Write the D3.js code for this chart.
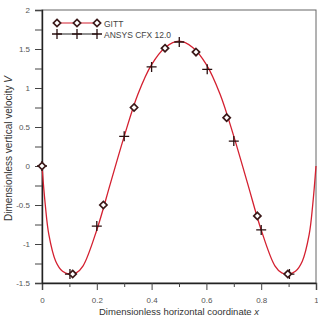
<!DOCTYPE html>
<html><head><meta charset="utf-8">
<script src="https://cdn.jsdelivr.net/npm/d3@7"></script>
<style>body{margin:0;background:#fff}svg{display:block}</style>
</head><body>
<script>
// Data
const curveX = [0, 0.012, 0.025, 0.05, 0.075, 0.1, 0.125, 0.15, 0.2, 0.25, 0.3, 0.35, 0.4, 0.45, 0.5, 0.55, 0.6, 0.65, 0.7, 0.75, 0.8, 0.85, 0.875, 0.9, 0.925, 0.95, 0.975, 0.988, 1];
const curveV = [0, -0.5, -0.88, -1.22, -1.35, -1.385, -1.37, -1.28, -0.82, -0.22, 0.38, 0.92, 1.30, 1.52, 1.60, 1.52, 1.30, 0.92, 0.38, -0.22, -0.82, -1.28, -1.37, -1.385, -1.35, -1.22, -0.88, -0.5, 0];
const gittX = [0, 0.112, 0.224, 0.336, 0.449, 0.562, 0.674, 0.786, 0.897];
const gittV = [0, -1.385, -0.50, 0.75, 1.51, 1.46, 0.62, -0.64, -1.385];
const ansysX = [0, 0.102, 0.2, 0.30, 0.40, 0.501, 0.603, 0.70, 0.80, 0.903];
const ansysV = [0, -1.385, -0.77, 0.38, 1.27, 1.59, 1.24, 0.32, -0.82, -1.385];
const xTicks = [0, 0.2, 0.4, 0.6, 0.8, 1];
const xTickLabels = ["0", "0.2", "0.4", "0.6", "0.8", "1"];
const yTicks = [-1.5, -1, -0.5, 0, 0.5, 1, 1.5, 2];
const yTickLabels = ["-1.5", "-1", "-0.5", "0", "0.5", "1", "1.5", "2"];
const seriesNames = ["GITT", "ANSYS CFX 12.0"];

const W = 318, H = 316;
const L = 42, R = 316, T = 10, B = 283;
const svg = d3.select("body").append("svg").attr("width", W).attr("height", H);
const x = d3.scaleLinear().domain([0, 1]).range([L, R]);
const y = d3.scaleLinear().domain([-1.5, 2]).range([B, T]);
const red = "#d42030";
const font = "Arial, 'Liberation Sans', sans-serif";

// frame
svg.append("rect").attr("x", L).attr("y", T).attr("width", R - L).attr("height", B - T)
  .attr("fill", "none").attr("stroke", "#666").attr("stroke-width", 1);

// x axis
const xMinor = d3.range(0.1, 1, 0.2);
svg.append("g").attr("transform", `translate(0,${B})`)
  .call(d3.axisBottom(x).tickValues(xTicks).tickFormat((d, i) => xTickLabels[i]).tickSize(7).tickPadding(7));
svg.append("g").attr("transform", `translate(0,${B})`)
  .call(d3.axisBottom(x).tickValues(xMinor).tickFormat("").tickSize(4))
  .select(".domain").remove();
// y axis
const yMinor = d3.range(-1.25, 2, 0.5);
svg.append("g").attr("transform", `translate(${L},0)`)
  .call(d3.axisLeft(y).tickValues(yTicks).tickFormat((d, i) => yTickLabels[i]).tickSize(7).tickPadding(5));
svg.append("g").attr("transform", `translate(${L},0)`)
  .call(d3.axisLeft(y).tickValues(yMinor).tickFormat("").tickSize(7))
  .select(".domain").remove();
svg.selectAll(".tick text").attr("font-family", font).attr("font-size", 8).attr("fill", "#555");
svg.selectAll(".tick line").attr("stroke", "#444");
svg.selectAll(".domain").attr("stroke", "#222").attr("stroke-width", 1.4);

// curve
const curvePts = curveX.map((d, i) => [d, curveV[i]]);
svg.append("path").datum(curvePts)
  .attr("d", d3.line().x(d => x(d[0])).y(d => y(d[1])).curve(d3.curveCatmullRom.alpha(0.5)))
  .attr("fill", "none").attr("stroke", red).attr("stroke-width", 1.3);

function diamond(g, cx, cy) {
  g.append("path").attr("d", `M${cx},${cy - 3.6}L${cx + 3.6},${cy}L${cx},${cy + 3.6}L${cx - 3.6},${cy}Z`)
    .attr("fill", "#fff").attr("stroke", "#3a1818").attr("stroke-width", 1.7);
}
function cross(g, cx, cy) {
  g.append("path").attr("d", `M${cx - 5},${cy}H${cx + 5}M${cx},${cy - 5}V${cy + 5}`)
    .attr("stroke", "#2a1010").attr("stroke-width", 1.3);
}
const gm = svg.append("g");
ansysX.forEach((d, i) => cross(gm, x(d), y(ansysV[i])));
gittX.forEach((d, i) => diamond(gm, x(d), y(gittV[i])));

// legend
const lg = svg.append("g");
lg.append("line").attr("x1", 57).attr("x2", 97).attr("y1", 23).attr("y2", 23).attr("stroke", red).attr("stroke-width", 1.2);
[57, 77, 97].forEach(cx => diamond(lg, cx, 23));
lg.append("line").attr("x1", 56).attr("x2", 98).attr("y1", 34).attr("y2", 34).attr("stroke", "#222").attr("stroke-width", 1.2);
[57, 77, 97].forEach(cx => cross(lg, cx, 34));
lg.append("text").attr("x", 104).attr("y", 27).text(seriesNames[0])
  .attr("font-family", font).attr("font-size", 8.5).attr("fill", "#444");
lg.append("text").attr("x", 104).attr("y", 37.5).text(seriesNames[1])
  .attr("font-family", font).attr("font-size", 8.5).attr("fill", "#444");

// axis titles
const xt = svg.append("text").attr("x", (L + R) / 2).attr("y", 314.5).attr("text-anchor", "middle")
  .attr("font-family", font).attr("font-size", 9.5).attr("fill", "#333");
xt.append("tspan").text("Dimensionless horizontal coordinate ");
xt.append("tspan").attr("font-style", "italic").text("x");
const yt = svg.append("text").attr("transform", `translate(12,${(T + B) / 2 + 2}) rotate(-90)`).attr("text-anchor", "middle")
  .attr("font-family", font).attr("font-size", 10).attr("fill", "#333");
yt.append("tspan").text("Dimensionless vertical velocity ");
yt.append("tspan").attr("font-style", "italic").text("V");
</script>
</body></html>
